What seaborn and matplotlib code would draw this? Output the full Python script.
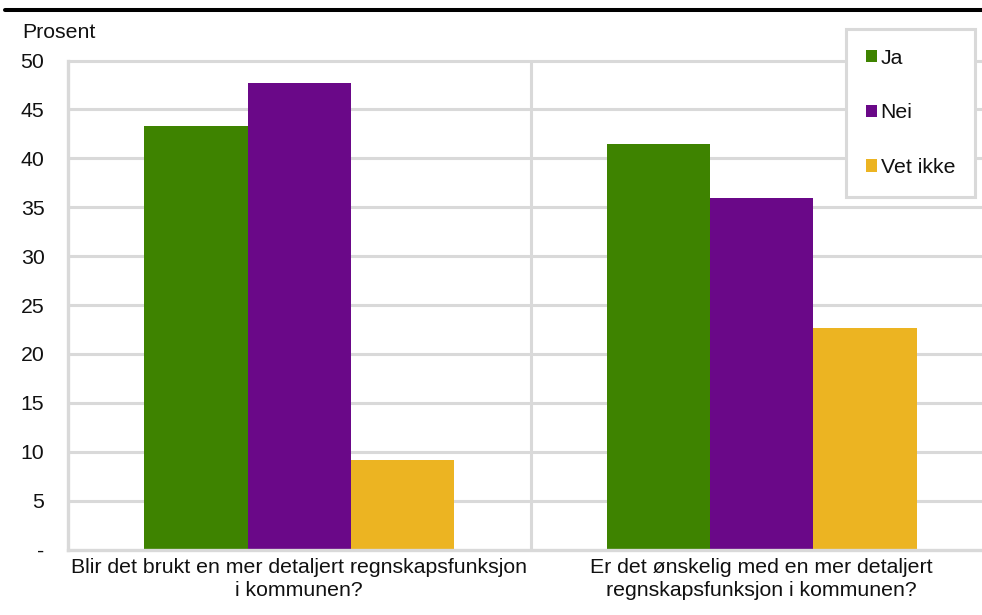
import matplotlib
matplotlib.use("Agg")
import matplotlib.pyplot as plt
from matplotlib.lines import Line2D
import seaborn as sns
import pandas as pd

# Survey questions (x categories), answer options and percentages
questions = [
    "Blir det brukt en mer detaljert regnskapsfunksjon\ni kommunen?",
    "Er det ønskelig med en mer detaljert\nregnskapsfunksjon i kommunen?",
]
answers = ["Ja", "Nei", "Vet ikke"]
ja = [43.3, 41.5]
nei = [47.7, 35.9]
vet_ikke = [9.2, 22.6]

yticks = [0, 5, 10, 15, 20, 25, 30, 35, 40, 45, 50]
ytick_labels = ["-", "5", "10", "15", "20", "25", "30", "35", "40", "45", "50"]

colors = ["#3e8300", "#6a0888", "#ecb422"]
grid_color = "#d9d9d9"

rows = []
for ans, vals in zip(answers, [ja, nei, vet_ikke]):
    for q, v in zip(questions, vals):
        rows.append({"sporsmal": q, "svar": ans, "prosent": v})
df = pd.DataFrame(rows)

sns.set_theme(style="white")
plt.rcParams["font.family"] = ["Liberation Sans", "DejaVu Sans"]
FS = 15.3

fig = plt.figure(figsize=(9.82, 6.15), dpi=100)
W, H = 982, 615
ax = fig.add_axes([68 / W, 1 - 549.5 / H, (993 - 68) / W, (549.5 - 60.5) / H])

sns.barplot(
    data=df, x="sporsmal", y="prosent", hue="svar",
    order=questions, hue_order=answers, palette=colors,
    width=0.67, gap=0, saturation=1, linewidth=0, ax=ax, zorder=3,
)

ax.set_xlim(-0.5, 1.5)
ax.set_ylim(0, 50)

# Horizontal gridlines and the category divider
for y in yticks[1:]:
    ax.axhline(y, color=grid_color, lw=2.2, zorder=1, clip_on=False)
ax.axvline(0.5, color=grid_color, lw=2.2, zorder=1)

for side in ["top", "right"]:
    ax.spines[side].set_visible(False)
for side in ["left", "bottom"]:
    ax.spines[side].set_color(grid_color)
    ax.spines[side].set_linewidth(2.4)
    ax.spines[side].set_zorder(4)

ax.set_yticks(yticks)
ax.set_yticklabels(ytick_labels, fontsize=FS, color="#111111")
ax.tick_params(axis="y", length=0, pad=17)
ax.tick_params(axis="x", length=0, pad=6, labelsize=FS, labelcolor="#111111")
for lab in ax.get_xticklabels():
    lab.set_linespacing(1.25)
ax.set_xlabel("")
ax.set_ylabel("")

fig.text(22 / W, 1 - 33 / H, "Prosent", fontsize=FS, ha="left", va="center", color="#111111")

# Rule under the heading
fig.add_artist(Line2D([5 / W, 1], [1 - 10.3 / H, 1 - 10.3 / H], color="black", lw=2.9,
                      transform=fig.transFigure))

handles, labels = ax.get_legend_handles_labels()
if ax.legend_:
    ax.legend_.remove()
leg = fig.legend(
    handles, labels, loc="upper left", bbox_to_anchor=(846 / W, 1 - 29 / H),
    bbox_transform=fig.transFigure, fontsize=FS, frameon=True, fancybox=False,
    edgecolor=grid_color, framealpha=1, borderpad=0.92, labelspacing=1.68,
    handlelength=0.52, handleheight=0.52, handletextpad=0.19, borderaxespad=0,
)
leg.get_frame().set_linewidth(2.2)
for t in leg.get_texts():
    t.set_color("#111111")

fig.savefig("out.png", dpi=100)
